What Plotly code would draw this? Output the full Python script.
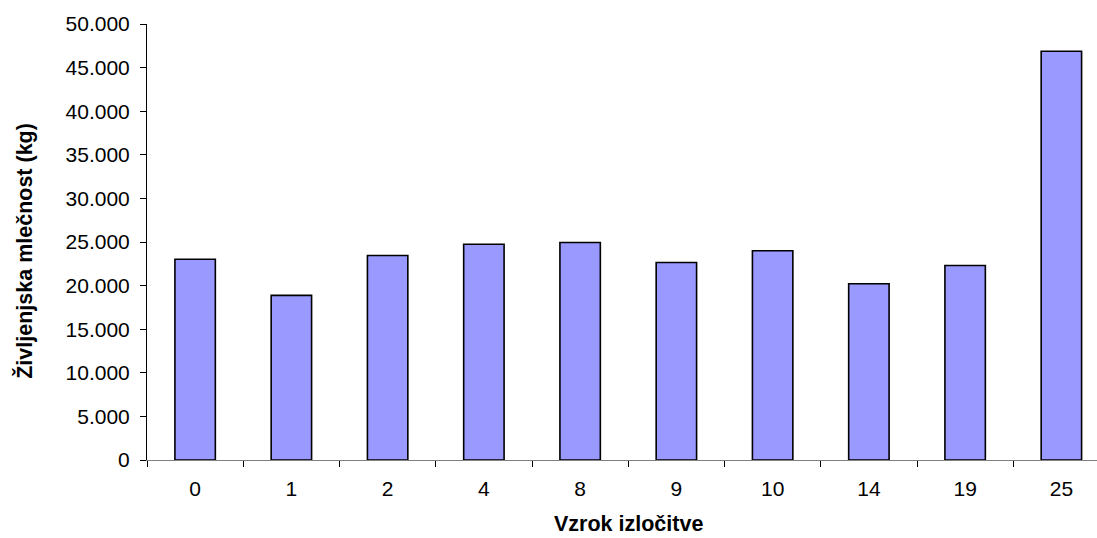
import plotly.graph_objects as go

# Vzrok izločitve (culling reason) and lifetime milk yield per group
vzrok = ["0", "1", "2", "4", "8", "9", "10", "14", "19", "25"]
mlecnost = [23030, 18880, 23450, 24750, 24940, 22650, 23990, 20220, 22310, 46880]

y_ticks = list(range(0, 50001, 5000))

font_family = "Arial, 'Liberation Sans', sans-serif"
tick_size = 21
title_size = 21.5

fig = go.Figure(
    go.Bar(
        x=vzrok,
        y=mlecnost,
        width=0.42,
        marker=dict(color="#9999FF", line=dict(color="#000000", width=1.6)),
    )
)

fig.update_layout(
    width=1097,
    height=538,
    margin=dict(l=146.5, r=0, t=23.5, b=78),
    paper_bgcolor="white",
    plot_bgcolor="white",
    separators=",.",
    showlegend=False,
    font=dict(family=font_family, size=tick_size, color="#000000"),
    annotations=[
        dict(
            text="<b>Vzrok izločitve</b>",
            xref="paper", yref="paper",
            x=0.5066, y=0,
            yshift=-64,
            xanchor="center", yanchor="middle",
            showarrow=False,
            font=dict(family=font_family, size=title_size, color="#000000"),
        ),
        dict(
            text="<b>Življenjska mlečnost (kg)</b>",
            xref="paper", yref="paper",
            x=-0.1289, y=0.4788,
            xanchor="center", yanchor="middle",
            textangle=-90,
            showarrow=False,
            font=dict(family=font_family, size=title_size, color="#000000"),
        ),
    ],
)

fig.update_xaxes(
    type="category",
    range=[-0.5, 9.37],
    tickson="boundaries",
    ticks="outside",
    ticklen=6,
    tickcolor="#000000",
    ticklabelstandoff=10,
    showline=True,
    linecolor="#808080",
    linewidth=1,
    showgrid=False,
    zeroline=False,
    tickfont=dict(family=font_family, size=tick_size, color="#000000"),
)

fig.update_yaxes(
    range=[0, 50000],
    tickvals=y_ticks,
    tickformat=",d",
    ticks="outside",
    ticklen=6,
    tickcolor="#000000",
    ticklabelstandoff=6,
    showline=True,
    linecolor="#000000",
    linewidth=1,
    showgrid=False,
    zeroline=False,
    tickfont=dict(family=font_family, size=tick_size, color="#000000"),
)

fig.write_html("out.html")
